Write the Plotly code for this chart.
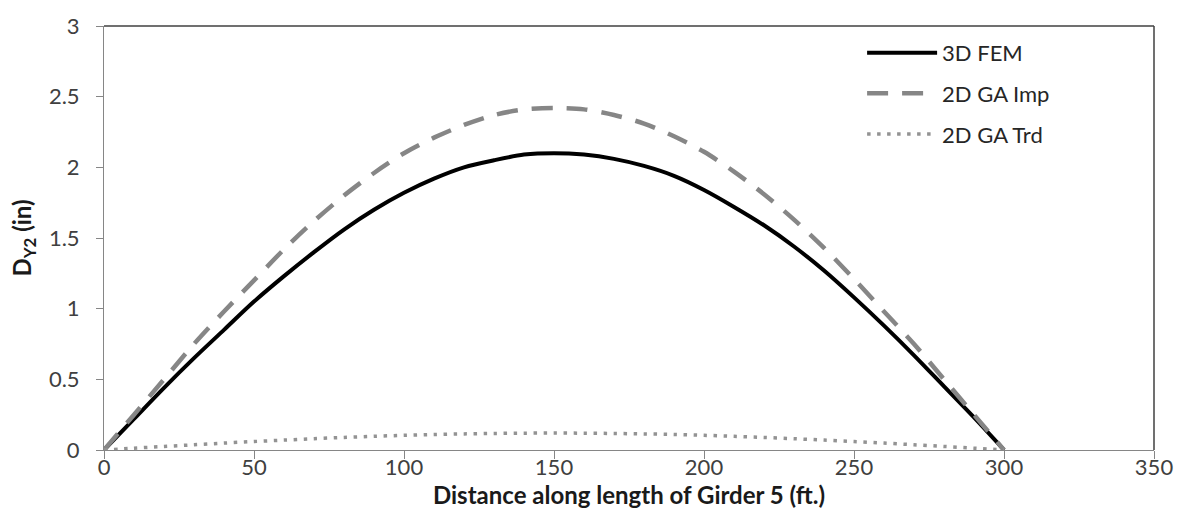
import plotly.graph_objects as go

distance_ft = [0, 10, 20, 30, 40, 50, 60, 70, 80, 90, 100, 110, 120, 130, 140, 150,
               160, 170, 180, 190, 200, 210, 220, 230, 240, 250, 260, 270, 280, 290, 300]

fem_3d = [0.00, 0.22, 0.44, 0.65, 0.85, 1.05, 1.23, 1.40, 1.56, 1.70, 1.82, 1.92, 2.00, 2.05, 2.09, 2.10,
          2.09, 2.06, 2.01, 1.94, 1.84, 1.72, 1.59, 1.44, 1.27, 1.08, 0.88, 0.67, 0.45, 0.23, 0.00]

ga_imp_2d = [0.00, 0.25, 0.50, 0.75, 0.98, 1.20, 1.42, 1.62, 1.80, 1.96, 2.10, 2.21, 2.30, 2.37, 2.41, 2.42,
             2.41, 2.37, 2.31, 2.22, 2.11, 1.97, 1.81, 1.63, 1.43, 1.21, 0.98, 0.75, 0.50, 0.25, 0.00]

ga_trd_2d = [0.000, 0.013, 0.025, 0.037, 0.049, 0.060, 0.070, 0.080, 0.089, 0.097, 0.104, 0.110, 0.114, 0.117, 0.119, 0.120,
             0.119, 0.117, 0.114, 0.110, 0.104, 0.097, 0.089, 0.080, 0.070, 0.060, 0.049, 0.037, 0.025, 0.013, 0.000]

x_ticks = [0, 50, 100, 150, 200, 250, 300, 350]
y_ticks = [0, 0.5, 1, 1.5, 2, 2.5, 3]
y_tick_labels = ["0", "0.5", "1", "1.5", "2", "2.5", "3"]

FONT = "Lato, Carlito, Calibri, sans-serif"

fig = go.Figure()
fig.add_trace(go.Scatter(x=distance_ft, y=fem_3d, mode="lines", name="3D FEM", legendgroup="a",
                         line=dict(color="black", width=4, shape="spline", smoothing=0.8)))
fig.add_trace(go.Scatter(x=distance_ft, y=ga_imp_2d, mode="lines", name="2D GA Imp", legendgroup="b",
                         line=dict(color="#868686", width=4.5, dash="21px,14px", shape="spline", smoothing=0.8)))
fig.add_trace(go.Scatter(x=distance_ft, y=ga_trd_2d, mode="lines", name="2D GA Trd", legendgroup="c",
                         line=dict(color="#939393", width=3.5, dash="3.5px,6.5px", shape="spline", smoothing=0.8)))

fig.update_layout(
    width=1185, height=525,
    margin=dict(l=104, r=28, t=19, b=75),
    paper_bgcolor="white", plot_bgcolor="white",
    font=dict(family=FONT, size=22, color="#404040"),
    showlegend=True,
    legend=dict(x=0.722, y=0.986, xanchor="left", yanchor="top",
                bgcolor="rgba(0,0,0,0)", font=dict(size=22, color="#262626"),
                tracegroupgap=9, itemwidth=70),
    xaxis=dict(range=[0, 350], tickvals=x_ticks, ticks="outside", ticklen=8,
               tickcolor="#868686", showline=True, linecolor="#868686", linewidth=1,
               showgrid=False, zeroline=False, ticklabelstandoff=-10,
               title=dict(text="<b>Distance along length of Girder 5 (ft.)</b>",
                          font=dict(size=24, color="#1a1a1a"), standoff=0)),
    yaxis=dict(range=[0, 3], tickvals=y_ticks, ticktext=y_tick_labels, ticks="outside", ticklen=7,
               tickcolor="#868686", showline=True, linecolor="#868686", linewidth=1,
               showgrid=False, zeroline=False, ticklabelstandoff=12,
               title=dict(text="<b>D<sub>Y2</sub> (in)</b>",
                          font=dict(size=24, color="#1a1a1a"), standoff=10)),
)

# dark top and right border of the plot area
fig.add_shape(type="line", xref="x domain", yref="y domain", x0=0, x1=1, y0=1, y1=1,
              line=dict(color="#404040", width=1.5))
fig.add_shape(type="line", xref="x domain", yref="y domain", x0=1, x1=1, y0=0, y1=1,
              line=dict(color="#404040", width=1.5))

fig.write_html("out.html")
